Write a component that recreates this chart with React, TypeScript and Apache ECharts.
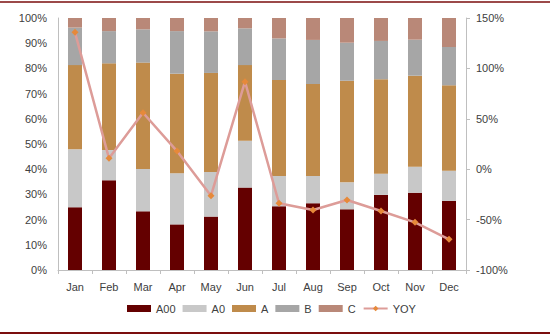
import React, { useEffect, useRef } from "react";
import * as echarts from "echarts";

const categories = ["Jan", "Feb", "Mar", "Apr", "May", "Jun", "Jul", "Aug", "Sep", "Oct", "Nov", "Dec"];
const a00 = [24.9, 35.6, 23.3, 18.1, 21.2, 32.7, 25.3, 26.5, 24.1, 29.8, 30.7, 27.4];
const a0 = [23.0, 12.0, 16.8, 20.3, 17.7, 18.6, 12.0, 10.8, 10.7, 8.4, 10.3, 12.0];
const aSeg = [33.4, 34.4, 42.2, 39.5, 39.3, 30.0, 38.1, 36.5, 40.3, 37.5, 36.1, 33.9];
const bSeg = [14.9, 12.8, 13.2, 16.9, 16.5, 14.6, 16.5, 17.5, 15.1, 15.2, 14.3, 15.2];
const cSeg = [3.8, 5.2, 4.5, 5.2, 5.3, 4.1, 8.1, 8.7, 9.8, 9.1, 8.6, 11.5];
const yoy = [135.8, 10.8, 56.0, 18.0, -26.3, 86.8, -33.8, -40.5, -30.6, -41.5, -52.7, -69.6];
const leftTicks = { min: 0, max: 100, interval: 10 };
const rightTicks = { min: -100, max: 150, interval: 50 };

const colors = {
  A00: "#640000",
  A0: "#c8c8c8",
  A: "#bf8b4b",
  B: "#a6a6a6",
  C: "#b98878",
  YOYLine: "#dd9c98",
  YOYMarker: "#e6893a",
};

export default function App() {
  const ref = useRef<HTMLDivElement>(null);
  useEffect(() => {
    if (!ref.current) return;
    const chart = echarts.init(ref.current, null, { renderer: "svg" });
    const font = "Liberation Sans, Arial, sans-serif";
    const barSeries = (name: string, data: number[], color: string) => ({
      name,
      type: "bar",
      stack: "total",
      data,
      barWidth: 14,
      yAxisIndex: 0,
      itemStyle: { color },
    });
    chart.setOption({
      animation: false,
      textStyle: { fontFamily: font },
      grid: { left: 58, right: 84, top: 18, bottom: 66 },
      legend: {
        bottom: 17,
        left: 122,
        itemWidth: 24,
        itemHeight: 7,
        itemGap: 7,
        textStyle: { color: "#404040", fontSize: 11, fontFamily: font },
        data: [
          { name: "A00", icon: "rect" },
          { name: "A0", icon: "rect" },
          { name: "A", icon: "rect" },
          { name: "B", icon: "rect" },
          { name: "C", icon: "rect" },
          { name: "YOY" },
        ],
      },
      xAxis: {
        type: "category",
        data: categories,
        axisLine: { lineStyle: { color: "#bfbfbf" } },
        axisTick: { show: true, length: 4, lineStyle: { color: "#bfbfbf" } },
        axisLabel: { color: "#404040", fontSize: 11, margin: 11 },
      },
      yAxis: [
        {
          type: "value",
          ...leftTicks,
          axisLine: { show: true, lineStyle: { color: "#bfbfbf" } },
          axisTick: { show: false },
          splitLine: { show: false },
          axisLabel: { color: "#404040", fontSize: 11, margin: 11, formatter: "{value}%" },
        },
        {
          type: "value",
          ...rightTicks,
          position: "right",
          axisLine: { show: true, lineStyle: { color: "#bfbfbf" } },
          axisTick: { show: true, length: 4, lineStyle: { color: "#bfbfbf" } },
          splitLine: { show: false },
          axisLabel: { color: "#404040", fontSize: 11, margin: 10, formatter: "{value}%" },
        },
      ],
      series: [
        barSeries("A00", a00, colors.A00),
        barSeries("A0", a0, colors.A0),
        barSeries("A", aSeg, colors.A),
        barSeries("B", bSeg, colors.B),
        barSeries("C", cSeg, colors.C),
        {
          name: "YOY",
          type: "line",
          yAxisIndex: 1,
          data: yoy,
          symbol: "diamond",
          symbolSize: 7,
          lineStyle: { color: colors.YOYLine, width: 2.5 },
          itemStyle: { color: colors.YOYMarker },
        },
      ],
      graphic: [
        { type: "line", shape: { x1: 0, y1: 2, x2: 550, y2: 2 }, style: { stroke: "#7b0e0e", lineWidth: 1.5 } },
        { type: "line", shape: { x1: 0, y1: 333, x2: 550, y2: 333 }, style: { stroke: "#7b0e0e", lineWidth: 2 } },
      ],
    });
    return () => chart.dispose();
  }, []);
  return <div ref={ref} style={{ width: 550, height: 336, position: "absolute", left: 0, top: 0 }} />;
}
